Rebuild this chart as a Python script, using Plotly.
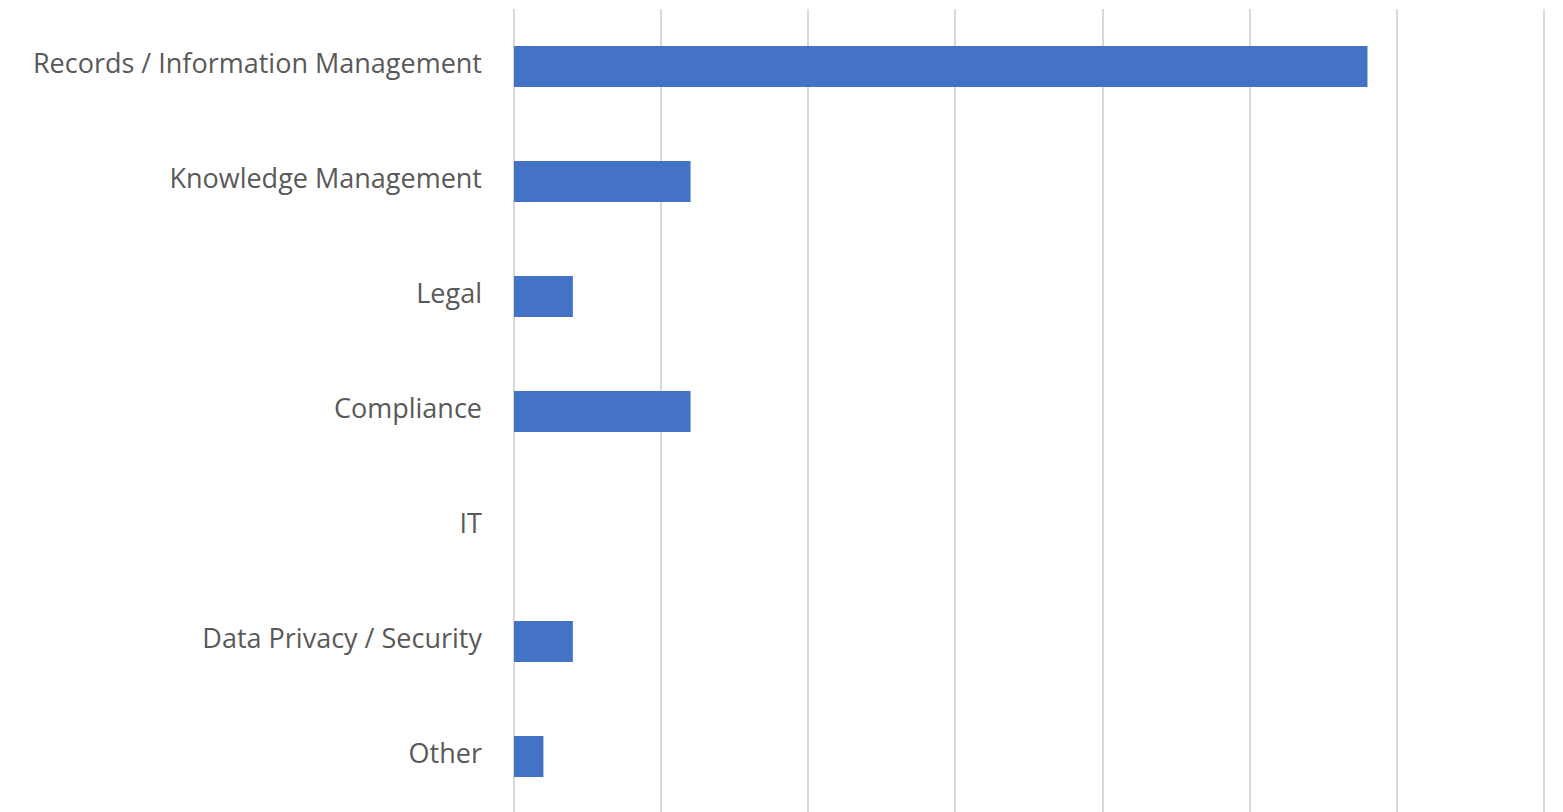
import plotly.graph_objects as go

categories = ["Records / Information Management", "Knowledge Management", "Legal",
              "Compliance", "IT", "Data Privacy / Security", "Other"]
values = [29, 6, 2, 6, 0, 2, 1]

fig = go.Figure(go.Bar(
    x=values, y=categories, orientation="h",
    marker=dict(color="#4472C4", line=dict(width=0)),
    width=0.357,
))
fig.update_layout(
    width=1563, height=812,
    margin=dict(l=514, r=16, t=9, b=0),
    paper_bgcolor="white", plot_bgcolor="white",
    showlegend=False,
    font=dict(family="Open Sans", color="#595959", size=27),
)
fig.update_xaxes(range=[0, 35.1], dtick=5, showgrid=True, gridcolor="#d9d9d9", gridwidth=2,
                 zeroline=True, zerolinecolor="#d9d9d9", zerolinewidth=2,
                 showticklabels=False, showline=False)
fig.update_yaxes(type="category", range=[6.483, -0.5], showgrid=False, showline=False,
                 ticks="", ticklabelstandoff=31, ticklabelshift=3,
                 tickfont=dict(size=27, color="#595959"))
fig.write_html("out.html")
